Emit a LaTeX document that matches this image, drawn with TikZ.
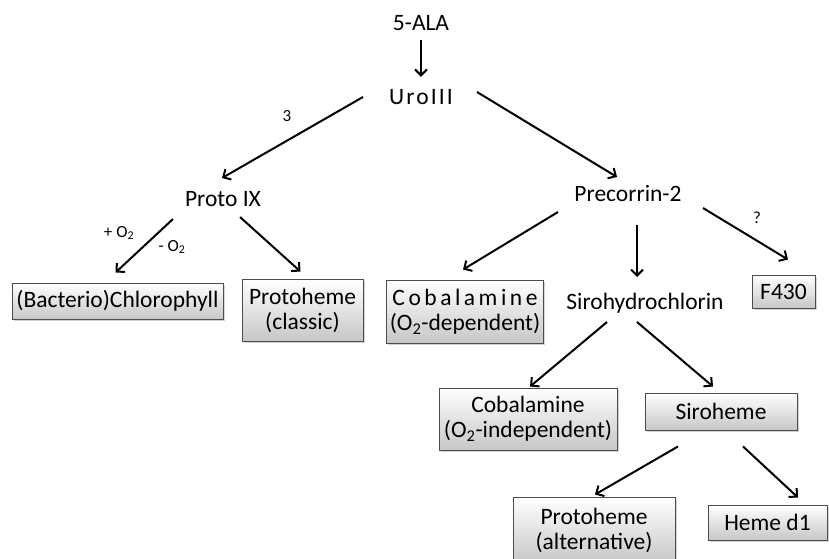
\documentclass[tikz,border=0pt]{standalone}
\usepackage{fontspec}
\setmainfont{Carlito}
\usetikzlibrary{arrows.meta,shadows}
\tikzset{
  product/.style={
    % The shape:
    shape=rectangle,
    % The size:
    inner sep=3pt, align=center,
    % The border:
    draw=black!70, line width=0.9pt,
    % The filling:
    top color=white, % white at the top...
    bottom color=black!22, % and light grey at the bottom
    drop shadow={shadow xshift=1.5pt,shadow yshift=-1.5pt,opacity=0.35}
  },
  inter/.style={inner sep=2pt, text height=16pt, text depth=4pt},
  small/.style={font=\fontsize{17}{19}\selectfont},
  pathway/.style={->, >={Straight Barb[length=6pt,width=12pt]}, line width=2pt}
}

\begin{document}
\begin{tikzpicture}[x=1pt,y=-1pt,font=\fontsize{23.5}{25}\selectfont]
	\useasboundingbox (0,0) rectangle (829,558);
	% intermediates
	\node[inter] (ala) at (421,24) {5-ALA};
	\node[inter] (uro) at (421,98) {\addfontfeature{LetterSpace=9}UroIII};
	\node[inter] (proto) at (223,200) {Proto IX};
	\node[inter] (prec) at (628,195) {Precorrin-2};
	\node[inter] (siro) at (645,303) {Sirohydrochlorin};
	% end products
	\node[product,minimum width=211pt,minimum height=36pt] (chl) at (117.5,301) {(Bacterio)Chlorophyll};
	\node[product,minimum width=121pt,minimum height=62pt] (pclassic) at (302.5,310) {Protoheme\\(classic)};
	\node[product,minimum width=156pt,minimum height=63pt] (cobdep) at (465,311.5) {{\addfontfeature{LetterSpace=15}Cobalamine}\\(O\textsubscript{2}-dependent)};
	\node[product,minimum width=63pt,minimum height=33pt] (f430) at (783.5,291.5) {F430};
	\node[product,minimum width=178pt,minimum height=62pt] (cobind) at (528,419) {Cobalamine\\(O\textsubscript{2}-independent)};
	\node[product,minimum width=152pt,minimum height=37pt] (siroheme) at (721,411.5) {Siroheme};
	\node[product,minimum width=162pt,minimum height=66pt] (palt) at (594,530) {Protoheme\\(alternative)};
	\node[product,minimum width=119pt,minimum height=35pt] (hemed1) at (767.5,522.5) {Heme d1};
	% small labels
	\node[small] (three) at (287,116) {3};
	\node[small] (plus) at (119,233) {+ O\textsubscript{2}};
	\node[small] (minus) at (172,247) {- O\textsubscript{2}};
	\node[small] (unknown) at (757,218) {?};
	% arrows
	\draw[pathway] ([shift={(0,4)}]ala.south) -- ([shift={(0,-9)}]uro.north);
	\draw[pathway] ([shift={(-58,-1)}]uro.center) -- ([shift={(-1,-22)}]proto.center);
	\draw[pathway] ([shift={(56,-6)}]uro.center) -- ([shift={(-11,-18)}]prec.center);
	\draw[pathway] ([shift={(-50,19)}]proto.center) -- ([shift={(-2,-10)}]chl.north);
	\draw[pathway] ([shift={(17,17)}]proto.center) -- ([shift={(-2,-7)}]pclassic.north);
	\draw[pathway] ([shift={(-70,17)}]prec.center) -- ([shift={(-2,-10)}]cobdep.north);
	\draw[pathway] ([shift={(9,30)}]prec.center) -- ([shift={(-8,-26)}]siro.center);
	\draw[pathway] ([shift={(75,13)}]prec.center) -- ([shift={(4.5,-15)}]f430.north);
	\draw[pathway] ([shift={(-38,19)}]siro.center) -- ([shift={(2,-1)}]cobind.north);
	\draw[pathway] ([shift={(-8,19)}]siro.center) -- ([shift={(-8,-6)}]siroheme.north);
	\draw[pathway] ([shift={(-43,16)}]siroheme.south) -- ([shift={(1,-2)}]palt.north);
	\draw[pathway] ([shift={(22,16)}]siroheme.south) -- ([shift={(30.5,-7)}]hemed1.north);
\end{tikzpicture}
\end{document}
